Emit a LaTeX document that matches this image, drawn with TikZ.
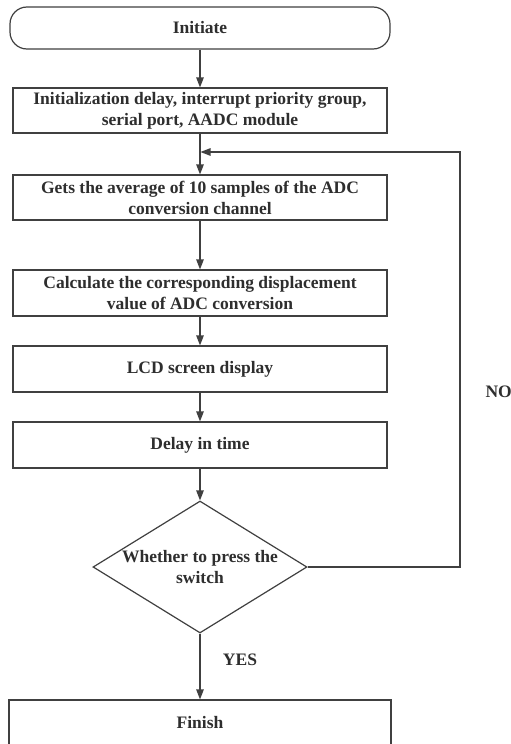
\documentclass[tikz,border=0pt]{standalone}
\usepackage{fontspec}
\setmainfont{Liberation Serif}
\usetikzlibrary{shapes.geometric,arrows.meta}
\definecolor{ln}{HTML}{404040}
\definecolor{tx}{HTML}{2E2E2E}
\begin{document}
\begin{tikzpicture}[x=1pt,y=-1pt,
  every node/.style={font=\bfseries\fontsize{17.5}{21}\selectfont, text=tx},
  box/.style={draw=ln, line width=1.2pt, rectangle, minimum width=374pt, minimum height=45pt, align=center, inner sep=0pt},
  arr/.style={draw=ln, line width=1.2pt, -{Triangle[length=10pt,width=7.5pt]}},
  ln/.style={draw=ln, line width=1.2pt}]
\useasboundingbox (0,0) rectangle (511,744);
\fill[white] (0,0) rectangle (511,744);
\node[box, rounded corners=17pt, minimum width=380pt, minimum height=42pt] (start) at (200,28) {Initiate};
\node[box] (init) at (200,110.5) {Initialization delay, interrupt priority group,\\serial port, AADC module};
\node[box] (gets) at (200,197.5) {Gets the average of 10 samples of the ADC\\conversion channel};
\node[box, minimum height=46pt] (calc) at (200,293) {Calculate the corresponding displacement\\value of ADC conversion};
\node[box, minimum height=46pt] (lcd) at (200,369) {LCD screen display};
\node[box, minimum height=46pt] (delay) at (200,445) {Delay in time};
\node[draw=ln, line width=1.2pt, diamond, minimum width=214pt, minimum height=132pt, inner sep=0pt,
  label={[align=center]center:Whether to press the\\switch}] (dec) at (200,567) {};
\node[box, minimum width=382pt, minimum height=46pt] (fin) at (200,723) {Finish};
\coordinate (loopR) at (460,152);
\coordinate (j) at (200,152);
\draw[arr] (start) -- (init);
\draw[arr] (init) -- (gets);
\draw[arr] (gets) -- (calc);
\draw[arr] (calc) -- (lcd);
\draw[arr] (lcd) -- (delay);
\draw[arr] (delay) -- (dec.north);
\draw[arr] (dec.south) -- (fin);
\draw[arr] (dec.east) -| (loopR) -- ([xshift=0.5pt]j);
\node[anchor=west] (no) at (482,392) {NO};
\node (yes) at (240,660) {YES};
\end{tikzpicture}
\end{document}
